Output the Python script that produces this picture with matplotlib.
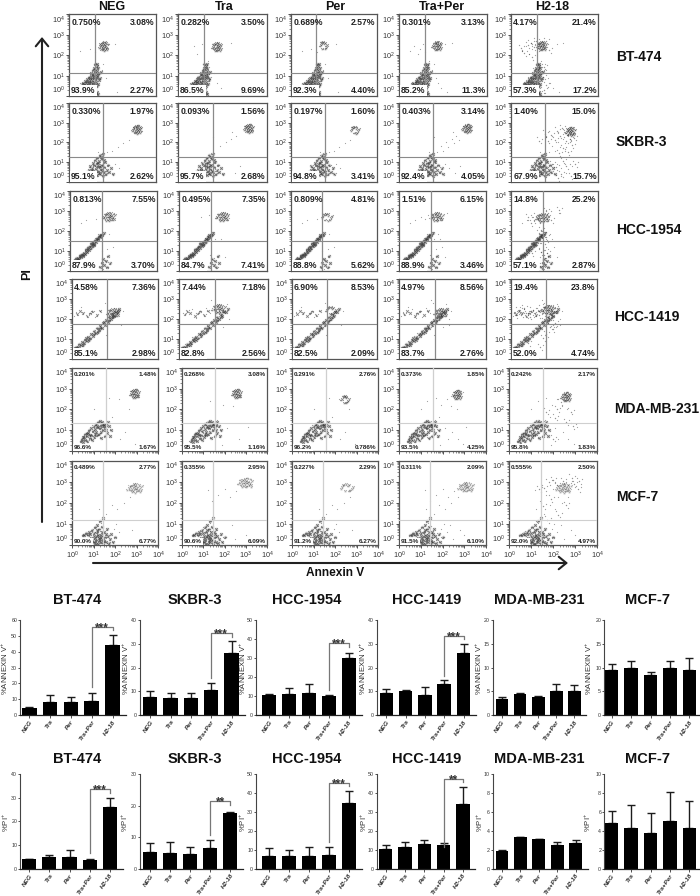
import matplotlib

matplotlib.use("Agg")
import matplotlib.pyplot as plt
import numpy as np
from matplotlib.ticker import LogLocator, NullFormatter

W, H = 700, 896
DOT = "#3c3c3c"
GRID_DARK = "#8a8a8a"
GRID_LIGHT = "#cfcfcf"
FRAME = "#555555"
INK = "#111111"

TREATMENTS = ["NEG", "Tra", "Per", "Tra+Per", "H2-18"]
CELL_LINES = ["BT-474", "SKBR-3", "HCC-1954", "HCC-1419", "MDA-MB-231", "MCF-7"]

# quadrant percentages, one row per cell line
UL = [["0.750%", "0.282%", "0.689%", "0.301%", "4.17%"],
      ["0.330%", "0.093%", "0.197%", "0.403%", "1.40%"],
      ["0.813%", "0.495%", "0.809%", "1.51%", "14.8%"],
      ["4.58%", "7.44%", "6.90%", "4.97%", "19.4%"],
      ["0.201%", "0.268%", "0.291%", "0.373%", "0.242%"],
      ["0.489%", "0.355%", "0.227%", "0.311%", "0.555%"]]
UR = [["3.08%", "3.50%", "2.57%", "3.13%", "21.4%"],
      ["1.97%", "1.56%", "1.60%", "3.14%", "15.0%"],
      ["7.55%", "7.35%", "4.81%", "6.15%", "25.2%"],
      ["7.36%", "7.18%", "8.53%", "8.56%", "23.8%"],
      ["1.48%", "3.08%", "2.76%", "1.85%", "2.17%"],
      ["2.77%", "2.95%", "2.29%", "2.09%", "2.50%"]]
LL = [["93.9%", "86.5%", "92.3%", "85.2%", "57.3%"],
      ["95.1%", "95.7%", "94.8%", "92.4%", "67.9%"],
      ["87.9%", "84.7%", "88.8%", "88.9%", "57.1%"],
      ["85.1%", "82.8%", "82.5%", "83.7%", "52.0%"],
      ["96.6%", "95.5%", "96.2%", "93.5%", "95.8%"],
      ["90.0%", "90.6%", "91.2%", "91.5%", "92.0%"]]
LR = [["2.27%", "9.69%", "4.40%", "11.3%", "17.2%"],
      ["2.62%", "2.68%", "3.41%", "4.05%", "15.7%"],
      ["3.70%", "7.41%", "5.62%", "3.46%", "2.87%"],
      ["2.98%", "2.56%", "2.09%", "2.76%", "4.74%"],
      ["1.67%", "1.16%", "0.786%", "4.25%", "1.83%"],
      ["6.77%", "6.09%", "6.27%", "6.10%", "4.97%"]]

# quadrant gates and upper cluster centres, in decades
GATE_X = [1.18, 1.56, 1.45, 1.64, 1.56, 1.44]
GATE_Y = [1.14, 1.28, 1.50, 1.75, 1.35, 1.19]
CLUSTER_X = [[1.58, 1.74, 1.54, 1.72, 1.40],
             [3.12, 3.17, 3.00, 3.09, 2.72],
             [1.78, 1.96, 1.70, 1.72, 1.44],
             [1.90, 1.78, 1.88, 1.90, 1.72],
             [2.90, 2.56, 2.50, 2.66, 2.58],
             [2.90, 2.97, 2.60, 3.05, 2.46]]
CLUSTER_Y = [[2.43, 2.40, 2.50, 2.45, 2.45],
             [2.65, 2.70, 2.65, 2.70, 2.55],
             [2.70, 2.70, 2.72, 2.70, 2.65],
             [2.30, 2.50, 2.45, 2.30, 2.45],
             [2.75, 2.75, 2.50, 2.70, 2.60],
             [2.70, 2.95, 2.75, 2.75, 2.70]]
# how far the main population sits above its typed base, and how many of its dots that covers
CORE_LIFT = [.45, .2, .4, .45, .25, 0]
CORE_LIFTED = [42, 48, 40, 40, 48, 48]

# dot shape of the upper cluster around its centre
CLUSTER = [(-.16, .02), (-.12, -.1), (-.1, .09), (-.07, -.02), (-.05, .15), (-.03, -.13), (0, .05), (.01, -.05),
           (.03, .12), (.05, -.01), (.07, -.15), (.09, .07), (.11, -.07), (.13, .17), (.15, .02), (.18, -.09),
           (-.2, -.06), (-.01, .2), (.02, -.2), (.21, .1), (-.08, -.18), (.06, .22), (-.14, .13), (.16, -.17)]
# small steps that thicken the typed dots into the dense look of the populations
SPECKLE = [(.05, .04), (-.05, .03), (.03, -.05), (-.04, -.04)]
WIDE_SPECKLE = [(.14, .09), (-.1, .16), (.07, -.13)]

ROW1_CORE = [(.58, .14), (.66, .21), (.71, .12), (.79, .19), (.83, .27), (.87, .13), (.92, .22), (.96, .33),
             (.99, .12), (1.03, .26), (1.07, .41), (1.1, .17), (1.13, .31), (1.17, .52), (1.2, .12), (1.23, .37),
             (1.26, .24), (1.3, .46), (1.34, .16), (1.38, .33), (.76, .3), (.84, .38), (.91, .47), (.98, .44),
             (1.04, .56), (1.09, .64), (1.15, .43), (1.19, .71), (1.24, .6), (1.29, .78), (1.33, .58), (1.37, .66),
             (1.02, .68), (1.11, .82), (1.16, .93), (1.22, .86), (1.27, 1.02), (1.33, .92), (1.19, 1.1), (1.3, 1.14),
             (1.42, .42), (1.46, .74), (1.18, .03), (1.24, .07), (1.28, .22), (1.21, .36), (1.32, .12), (1.28, .48)]
ROW2_CORE = [(.6, .16), (.7, .24), (.76, .14), (.82, .33), (.88, .2), (.92, .42), (.97, .12), (1.01, .3),
             (1.04, .52), (1.08, .18), (1.12, .38), (1.15, .64), (1.18, .1), (1.22, .27), (1.25, .48), (1.28, .74),
             (1.31, .14), (1.34, .34), (1.37, .58), (1.4, .86), (1.43, .22), (1.46, .44), (1.5, .68), (1.53, .98),
             (1.56, .12), (1.6, .32), (1.63, .54), (1.66, .8), (1.7, .2), (1.74, .42), (1.79, .64), (1.86, .3),
             (1.1, .76), (1.2, .9), (1.3, 1.04), (1.42, 1.16), (1.48, 1.08), (1.56, 1.24), (.95, .62), (1.05, .4),
             (1.94, .52), (2.02, .22), (1.35, .78), (1.45, .6), (1.27, .6), (1.52, .36), (1.62, .9), (1.38, .26)]
ROW3_CORE = [(.18, .1), (.24, .17), (.3, .14), (.35, .25), (.41, .2), (.45, .34), (.5, .28), (.55, .43),
             (.6, .37), (.64, .52), (.69, .46), (.73, .62), (.78, .56), (.82, .72), (.87, .66), (.91, .83),
             (.95, .76), (1.0, .93), (1.04, .87), (1.08, 1.03), (1.12, .97), (1.17, 1.14), (1.21, 1.07), (1.25, 1.24),
             (1.3, 1.18), (1.34, 1.33), (1.39, 1.28), (1.44, 1.42), (1.49, 1.38), (1.55, 1.5), (.38, .16), (.62, .42),
             (.85, .79), (1.1, .92), (.48, .38), (.74, .68), (.97, .98), (1.22, 1.2), (1.36, 1.4), (.27, .23),
             (1.38, .22), (1.46, .42), (1.52, .62), (1.58, .3), (1.64, .52), (1.7, .18), (1.76, .74), (1.82, .4)]
ROW4_CORE = [(.12, .1), (.2, .13), (.28, .16), (.34, .28), (.42, .24), (.48, .4), (.56, .36), (.62, .52),
             (.7, .47), (.76, .66), (.84, .58), (.9, .8), (.98, .7), (1.04, .94), (1.12, .84), (1.18, 1.08),
             (1.26, .98), (1.32, 1.22), (1.4, 1.12), (1.46, 1.36), (1.54, 1.26), (1.6, 1.5), (1.68, 1.4), (1.74, 1.64),
             (1.82, 1.56), (1.88, 1.78), (1.96, 1.72), (2.04, 1.92), (2.12, 1.9), (2.2, 2.06), (.5, .26), (.78, .52),
             (1.0, .82), (1.2, .92), (1.5, 1.4), (1.72, 1.48), (.3, .12), (.66, .6), (1.3, 1.08), (1.9, 1.64),
             (.25, 2.25), (.5, 2.3), (.72, 2.15), (.95, 2.38), (1.15, 2.2), (1.32, 2.42), (.38, 2.4), (.84, 2.28)]
ROW5_CORE = [(.4, .22), (.48, .32), (.52, .18), (.58, .44), (.62, .3), (.68, .6), (.72, .24), (.78, .74),
             (.84, .36), (.88, .86), (.94, .3), (1.0, .96), (1.04, .42), (1.1, 1.06), (1.14, .5), (1.2, 1.14),
             (1.24, .56), (1.3, 1.2), (1.34, .68), (1.4, 1.14), (1.44, .78), (1.5, 1.02), (1.54, .9), (1.58, .76),
             (.7, .46), (.82, .54), (.96, .7), (1.08, .82), (1.22, .9), (1.34, .98), (1.46, 1.06), (.6, .56),
             (.9, .5), (1.12, .66), (1.28, .84), (1.64, .62), (1.72, .96), (1.78, .48), (1.66, 1.16), (1.82, .78),
             (1.54, .46), (1.36, .4), (.5, .42), (1.16, .96), (1.42, .94), (1.06, .58), (.76, .62), (1.6, 1.0)]
ROW6_CORE = [(.5, .46), (.58, .5), (.66, .55), (.74, .5), (.8, .62), (.88, .35), (.92, .7), (.98, .12),
             (1.02, .44), (1.06, .84), (1.1, .22), (1.14, .6), (1.18, .96), (1.2, .06), (1.24, .34), (1.27, .74),
             (1.3, 1.12), (1.33, .14), (1.36, .5), (1.4, .88), (1.43, .26), (1.46, .08), (1.5, .62), (1.54, .36),
             (1.58, .16), (1.62, .76), (1.66, .44), (1.7, .08), (1.76, .28), (1.82, .54), (1.9, .16), (2.0, .36),
             (1.0, .58), (1.08, .32), (1.16, .42), (1.22, .5), (1.3, .28), (1.12, .06), (1.38, .62), (.95, .24),
             (1.44, 1.28), (1.26, .18), (1.34, .38), (.85, .52), (1.48, .2), (1.05, .12), (1.56, .52), (1.18, .72)]

ROW1_SPARSE = [(.5, 2.2), (.7, 2.45), (.95, 2.3), (1.1, 2.55), (1.2, 2.15), (.85, 2.05), (2.1, 2.55), (2.4, 2.6),
               (1.5, 1.3), (1.62, 1.15), (1.7, .9), (1.78, .62), (1.58, 1.55), (1.92, .38), (2.2, .22), (1.36, 1.7)]
ROW2_SPARSE = [(1.75, 1.5), (1.9, 1.8), (2.0, 1.55), (2.15, 2.0), (2.25, 1.75), (2.4, 2.2), (2.5, 1.95), (2.62, 2.35),
               (2.75, 2.15), (1.6, 2.3), (2.3, .7), (2.55, .45), (2.1, .9), (2.8, .8), (1.35, 1.5), (2.45, 2.55)]
ROW3_SPARSE = [(.75, 2.55), (1.0, 2.7), (1.2, 2.6), (1.35, 2.78), (.5, 2.4), (1.62, 1.6), (1.78, 1.85), (1.9, 1.62),
               (1.98, 1.2), (1.56, 1.95), (1.72, 1.1), (2.1, .7), (1.52, .12), (1.42, .78), (1.46, 1.02), (2.2, 2.9)]
ROW4_SPARSE = [(.1, 2.15), (.6, 2.48), (1.05, 2.1), (1.42, 2.28), (.18, 2.35), (2.28, 1.98), (2.38, 2.4), (2.15, 2.75),
               (1.55, 2.8), (1.45, 2.95), (1.6, 1.22), (2.0, 1.6), (.42, 2.62), (1.22, 2.55), (2.3, 1.72), (.78, 2.05)]
ROW5_SPARSE = [(1.0, 2.0), (1.3, 2.4), (1.7, 2.55), (1.95, 2.2), (2.2, 2.5), (2.4, 2.15), (1.85, 1.65), (2.1, 1.1),
               (2.45, .9), (2.7, .6), (2.95, .35), (1.9, .28), (2.25, .58), (1.65, 1.5), (2.65, 2.0), (3.1, 1.15)]
ROW6_SPARSE = [(1.25, 1.7), (1.42, 2.1), (1.6, 1.5), (1.7, 2.4), (1.85, 1.9), (2.0, 2.65), (2.1, 1.7), (2.25, 2.3),
               (2.4, 2.0), (2.55, 2.55), (2.7, 2.3), (1.2, 2.6), (2.2, .6), (2.5, .3), (2.8, .7), (3.2, .22),
               (2.05, 1.0), (2.35, .95), (1.95, .75), (3.0, .5)]

# extra dots that only the H2-18 panels carry
ROW1_EXTRA = [(.45, 2.35), (.6, 2.1), (.78, 2.5), (.9, 2.6), (1.05, 2.4), (1.15, 2.7), (1.22, 2.35), (1.28, 2.55),
              (.95, 1.9), (1.62, 2.7), (1.75, 2.25), (1.3, 1.35), (1.42, 1.25), (1.48, .95), (1.2, .3), (1.3, .15),
              (1.38, .05), (1.5, .28), (1.62, .55), (.66, .45), (.8, .6), (.9, .78), (1.52, 1.42), (1.1, 1.22)]
ROW2_EXTRA = [(1.3, 2.1), (1.55, 2.45), (1.7, 2.1), (1.85, 2.4), (2.0, 2.15), (2.1, 2.6), (2.25, 2.35), (2.35, 2.75),
              (2.5, 2.5), (2.55, 2.1), (2.7, 2.2), (2.9, 2.25), (2.2, 1.45), (2.4, 1.7), (2.6, 1.5), (2.8, 1.85),
              (2.05, .75), (2.3, .4), (2.55, .8), (2.75, .3), (2.95, .9), (2.15, .2), (1.9, .9), (2.4, 1.05)]
ROW3_EXTRA = [(.9, 2.4), (1.05, 2.55), (1.15, 2.75), (1.25, 2.55), (.8, 2.7), (1.7, 2.9), (1.85, 2.55), (1.6, 3.0),
              (1.3, 1.55), (1.42, 1.7), (1.48, 1.85), (1.55, 1.35), (1.6, 1.7), (1.38, 2.05), (1.45, .55), (1.42, .25),
              (1.5, .8), (1.65, .9), (1.4, .95), (1.42, .1), (1.3, 1.9), (2.2, 3.05), (.95, .9), (1.2, 1.3)]
ROW4_EXTRA = [(.12, 2.32), (.22, 2.18), (.35, 2.45), (.48, 2.22), (.6, 2.55), (.72, 2.32), (.88, 2.12), (1.0, 2.45),
              (1.1, 2.3), (1.28, 2.18), (1.4, 2.52), (1.5, 2.3), (1.6, 2.6), (1.95, 2.3), (2.05, 2.55), (1.7, 2.12),
              (1.55, 1.9), (1.82, 1.62), (1.65, 1.25), (1.5, 1.05), (1.95, 1.5), (2.05, 1.8), (1.35, .6), (.8, .8)]
ROW5_EXTRA = [(2.2, 2.0), (2.35, 2.35), (2.1, 1.6), (1.7, 1.9), (2.8, 1.9), (2.6, 1.4), (2.9, 1.2), (2.0, .6)]
ROW6_EXTRA = [(1.6, 2.7), (1.8, 3.0), (2.0, 3.1), (2.2, 2.85), (2.45, 3.05), (2.7, 2.85), (2.95, 2.9), (3.15, 2.65),
              (3.2, 3.05), (2.85, 3.2), (1.55, 1.85), (1.75, 1.2), (1.38, 2.65), (2.25, 1.45), (2.6, 1.9), (1.9, 2.2)]

CORES = [ROW1_CORE, ROW2_CORE, ROW3_CORE, ROW4_CORE, ROW5_CORE, ROW6_CORE]
SPARSES = [ROW1_SPARSE, ROW2_SPARSE, ROW3_SPARSE, ROW4_SPARSE, ROW5_SPARSE, ROW6_SPARSE]
EXTRAS = [ROW1_EXTRA, ROW2_EXTRA, ROW3_EXTRA, ROW4_EXTRA, ROW5_EXTRA, ROW6_EXTRA]

# bar charts: mean and top of error bar
ANNEXIN_YMAX = [60, 40, 50, 40, 20, 20]
ANNEXIN_MEAN = [[4.5, 8, 8, 9, 44.5], [7.5, 7, 7.2, 10.7, 26.3], [10.5, 11, 11.5, 10, 30],
                [9.2, 10, 8.5, 13, 26.2], [3.4, 4.5, 3.7, 5.1, 5], [9.5, 10, 8.5, 9.9, 9.5]]
ANNEXIN_TOP = [[5.2, 12.5, 11.5, 14, 50.5], [10.2, 9.3, 9.2, 13.5, 31], [11.3, 14.3, 16.5, 10.7, 32.5],
               [11, 10.7, 12, 14.7, 30], [3.7, 4.7, 3.9, 6.5, 6.4], [10.7, 11.4, 9, 11.3, 11.9]]
PI_YMAX = [40, 30, 50, 50, 10, 10]
PI_MEAN = [[4, 4.8, 4.9, 3.7, 26], [5.4, 5, 4.5, 6.5, 17.5], [6.5, 6.5, 6.5, 7.2, 34.7],
           [10.3, 11.5, 12.8, 12.5, 34.2], [1.85, 3.3, 3.1, 2.5, 2.7], [4.8, 4.35, 3.8, 5, 4.3]]
PI_TOP = [[4.3, 5.6, 7.7, 4.2, 30], [8, 8.3, 7, 9.2, 18.1], [10.7, 10, 11.3, 11.3, 40.8],
          [12.6, 14.2, 15, 13.6, 43], [2, 3.4, 3.1, 2.8, 3], [6.05, 6.7, 5.85, 8.05, 7.1]]
# brackets: (left foot, top, right foot, stars); None where no bracket is drawn
ANNEXIN_SIG = [(18, 55.5, 53.5, "***"), (15.4, 34.4, 33, "***"), (13.3, 38, 36, "***"), (16.6, 33.3, 32.2, "***"), None, None]
PI_SIG = [(6.5, 33.8, 32, "***"), (10.7, 21.5, 20.2, "**"), (14, 45.2, 43.5, "***"), (11.7, 47.3, 45.6, "**"), None, None]
TICK_STEP = {60: 10, 50: 10, 40: 10, 30: 10, 20: 5, 10: 2}

# layout in reference pixels
PANEL_TOP = [14.5, 103, 191, 279, 368, 461]
PANEL_BOT = [96, 182, 271, 359, 451, 545]
PANEL_L = [[69, 178, 291, 399, 511], [69, 178, 291, 399, 511], [70, 179, 291, 399, 511],
           [72, 179, 292, 399, 511], [72, 182, 292, 399, 509], [72, 182, 292, 399, 509]]
PANEL_R = [[155.7, 266.7, 377, 486.7, 598], [155.7, 266.7, 377, 486.7, 598], [157, 267, 377, 486, 598],
           [158, 267.5, 377, 486, 597], [158, 267, 378, 486, 597], [158, 267, 378, 486, 597]]
BAR_AXIS = [20, 139.5, 256, 376.7, 492.7, 604]
ANNEXIN_FIRST = [29.3, 150.3, 269.3, 386.3, 502, 611.7]
ANNEXIN_STEP = [20.8, 20.3, 19.9, 19.3, 18.1, 19.4]
PI_FIRST = [29.3, 150.3, 269, 385.7, 502, 611.7]
PI_STEP = [20.1, 20, 19.9, 19.3, 18.4, 19.4]
YLABEL_A = [5, 126, 243, 363, 479, 589]
YLABEL_B = [6, 125, 243, 364, 480, 588]
TITLE_X = [77, 195, 307, 427, 539, 647]
COLUMN_X = [112, 224, 335, 442, 552]
ROW_LABEL_X = [616, 616, 616, 614, 614, 616]
ROW_LABEL_Y = [57, 142, 230, 317, 409, 497]

plt.rcParams.update({"font.family": ["Liberation Sans", "DejaVu Sans"], "mathtext.default": "regular"})


def px_axes(fig, left, top, right, bottom):
    return fig.add_axes([left / W, 1 - bottom / H, (right - left) / W, (bottom - top) / H])


def dots(ax, x, y, size, alpha):
    ax.scatter(10.0 ** x, 10.0 ** y, s=size, color=DOT, alpha=alpha, lw=0, zorder=2)


def flow_panel(fig, r, c):
    ax = px_axes(fig, PANEL_L[r][c], PANEL_TOP[r], PANEL_R[r][c], PANEL_BOT[r])
    ax.set_xscale("log")
    ax.set_yscale("log")
    small = r >= 4

    core = np.array(CORES[r], dtype=float)
    core[: CORE_LIFTED[r], 1] += CORE_LIFT[r]
    sparse = np.array(SPARSES[r][c % 2 :: 1 if c == 4 else 2] if c != 3 else SPARSES[r])
    cluster = np.array(CLUSTER[:: 1 if c in (0, 1, 3, 4) else 2])
    spread = 1.35 if r in (2, 3) else (1.6 if r == 5 else 1.0)
    cx = CLUSTER_X[r][c] + cluster[:, 0] * spread
    cy = CLUSTER_Y[r][c] + cluster[:, 1]

    # soft underlay, then the dots themselves
    under = core[:40] if r == 3 else core
    dots(ax, under[:, 0], under[:, 1], 7, 0.2)
    dots(ax, core[:, 0], core[:, 1], 1.5, 0.65)
    for dx, dy in SPECKLE:
        dots(ax, core[:, 0] + dx, core[:, 1] + dy, 0.8, 0.5)
    cluster_alpha = 0.35 if r == 5 else 0.5
    dots(ax, cx, cy, 5, 0.1)
    dots(ax, cx, cy, 1.0, cluster_alpha)
    for dx, dy in SPECKLE[:2]:
        dots(ax, cx + dx, cy + dy, 0.7, cluster_alpha)
    dots(ax, sparse[:, 0], sparse[:, 1], 0.7, 0.5)
    if c == 4:
        extra = np.array(EXTRAS[r])
        dots(ax, extra[:, 0], extra[:, 1], 1.0, 0.55)
        for dx, dy in WIDE_SPECKLE:
            dots(ax, extra[:, 0] + dx, extra[:, 1] + dy, 0.8, 0.5)

    gate = GRID_LIGHT if small else GRID_DARK
    ax.axvline(10 ** GATE_X[r], color=gate, lw=0.9, zorder=3)
    ax.axhline(10 ** GATE_Y[r], color=gate, lw=0.8, zorder=3)

    ax.set_xlim(1, 1e4)
    ax.set_ylim(1, 1e4)
    for s in ax.spines.values():
        s.set_color(FRAME)
        s.set_linewidth(0.9)

    ax.yaxis.set_minor_locator(LogLocator(base=10, subs=np.arange(2, 10), numticks=6))
    ax.yaxis.set_minor_formatter(NullFormatter())
    ax.set_yticks([1, 10, 100, 1000, 10000])
    ax.set_yticklabels([f"$10^{{{i}}}$" for i in range(5)], fontsize=5.2, color="#333333")
    ax.tick_params(axis="y", which="major", length=2.2, width=0.6, pad=1, color="#333333")
    ax.tick_params(axis="y", which="minor", length=1.2, width=0.4, color="#333333")
    ax.get_yticklabels()[0].set_va("bottom")
    ax.get_yticklabels()[-1].set_va("top")

    if small:
        ax.xaxis.set_minor_locator(LogLocator(base=10, subs=np.arange(2, 10), numticks=6))
        ax.xaxis.set_minor_formatter(NullFormatter())
        ax.set_xticks([1, 10, 100, 1000, 10000])
        ax.tick_params(axis="x", which="major", length=2.2, width=0.6, pad=1.5, color="#333333")
        ax.tick_params(axis="x", which="minor", length=1.2, width=0.4, color="#333333")
    else:
        ax.set_xticks([])
        ax.tick_params(axis="x", which="both", length=0)
    if r == 5:
        ax.set_xticklabels([f"$10^{{{i}}}$" for i in range(5)], fontsize=5.2, color="#333333")
    elif small:
        ax.set_xticklabels([])

    fs = 4.6 if small else 6.2
    kw = dict(transform=ax.transAxes, fontsize=fs, fontweight="bold", color="#222222", zorder=5)
    ax.text(0.025, 0.955, UL[r][c], va="top", ha="left", **kw)
    ax.text(0.985, 0.955, UR[r][c], va="top", ha="right", **kw)
    box = dict(facecolor="white", edgecolor="none", pad=0.6)
    ax.text(0.025, 0.015, LL[r][c], va="bottom", ha="left", bbox=box, **kw)
    ax.text(0.985, 0.015, LR[r][c], va="bottom", ha="right", **kw)


def bar_chart(fig, i, top, zero, first, step, ymax, mean, err_top, sig):
    right = first + step * 4.65
    ax = px_axes(fig, BAR_AXIS[i], top, right, zero)
    xs = np.arange(len(mean))
    mean = np.array(mean)
    ax.bar(xs, mean, width=0.7, color="black", zorder=2)
    ax.errorbar(xs, mean, yerr=[np.zeros(5), np.array(err_top) - mean], fmt="none",
                ecolor="#1c1c1c", elinewidth=1.0, capsize=2.6, capthick=1.0, zorder=1)
    ax.set_xlim((BAR_AXIS[i] - first) / step, (right - first) / step)
    ax.set_ylim(0, ymax)
    ax.spines[["top", "right"]].set_visible(False)
    ax.spines["left"].set_color("#444444")
    ax.spines["bottom"].set_color("#222222")
    ax.spines["left"].set_linewidth(0.8)
    ax.spines["bottom"].set_linewidth(0.9)
    ax.patch.set_alpha(0)
    ax.set_yticks(np.arange(0, ymax + 1, TICK_STEP[ymax]))
    ax.tick_params(axis="y", labelsize=3.8, length=1.5, width=0.6, pad=0.5, colors="#333333")
    ax.set_xticks(xs)
    ax.set_xticklabels(TREATMENTS, rotation=55, ha="right", rotation_mode="anchor",
                       fontsize=4.6, fontstyle="italic", fontweight="bold", color="#333333")
    ax.tick_params(axis="x", length=2, width=0.6, pad=1, color="#333333")
    if sig:
        low, brk, rfoot, stars = sig
        ax.plot([3, 3, 4, 4], [low, brk, brk, rfoot], color="#777777", lw=0.9, clip_on=False, zorder=3)
        ax.text(3.5, brk - ymax * 0.012, stars, ha="center", va="center", fontsize=8.5,
                color="#333333", fontweight="bold", clip_on=False)


fig = plt.figure(figsize=(W / 100, H / 100), dpi=100, facecolor="white")

for r in range(6):
    for c in range(5):
        flow_panel(fig, r, c)

for i in range(6):
    bar_chart(fig, i, 620, 715, ANNEXIN_FIRST[i], ANNEXIN_STEP[i], ANNEXIN_YMAX[i],
              ANNEXIN_MEAN[i], ANNEXIN_TOP[i], ANNEXIN_SIG[i])
    bar_chart(fig, i, 774, 868.7, PI_FIRST[i], PI_STEP[i], PI_YMAX[i],
              PI_MEAN[i], PI_TOP[i], PI_SIG[i])

# free text and the two long arrows live on a pixel overlay
ov = fig.add_axes([0, 0, 1, 1], facecolor="none")
ov.set_xlim(0, W)
ov.set_ylim(H, 0)
ov.axis("off")

for x, name in zip(COLUMN_X, TREATMENTS):
    ov.text(x, 9.5, name, ha="center", va="baseline", fontsize=9, fontweight="bold", color=INK)

for name, x, y in zip(CELL_LINES, ROW_LABEL_X, ROW_LABEL_Y):
    ov.text(x, y, name, ha="left", va="center", fontsize=10, fontweight="bold", color=INK)

arrow = dict(arrowstyle="->,head_length=0.55,head_width=0.45", color="#222222", lw=1.5, shrinkA=0, shrinkB=0)
ov.annotate("", xy=(42, 37), xytext=(42, 522), arrowprops=arrow)
ov.annotate("", xy=(568, 563), xytext=(93, 563), arrowprops=arrow)
ov.text(27, 274, "PI", rotation=90, ha="center", va="center", fontsize=9, fontweight="bold", color=INK)
ov.text(335, 573, "Annexin V", ha="center", va="center", fontsize=8.6, fontweight="bold", color=INK)

for i, name in enumerate(CELL_LINES):
    ov.text(TITLE_X[i], 600, name, ha="center", va="center", fontsize=10.5, fontweight="bold", color=INK)
    ov.text(TITLE_X[i], 759, name, ha="center", va="center", fontsize=10.5, fontweight="bold", color=INK)
    ov.text(YLABEL_A[i], 668, "%ANNEXIN V$^{+}$", rotation=90, ha="center", va="center", fontsize=5.6, color="#333333")
    ov.text(YLABEL_B[i], 822, "%PI$^{+}$", rotation=90, ha="center", va="center", fontsize=5.6, color="#333333")

fig.savefig("out.png", dpi=100)
